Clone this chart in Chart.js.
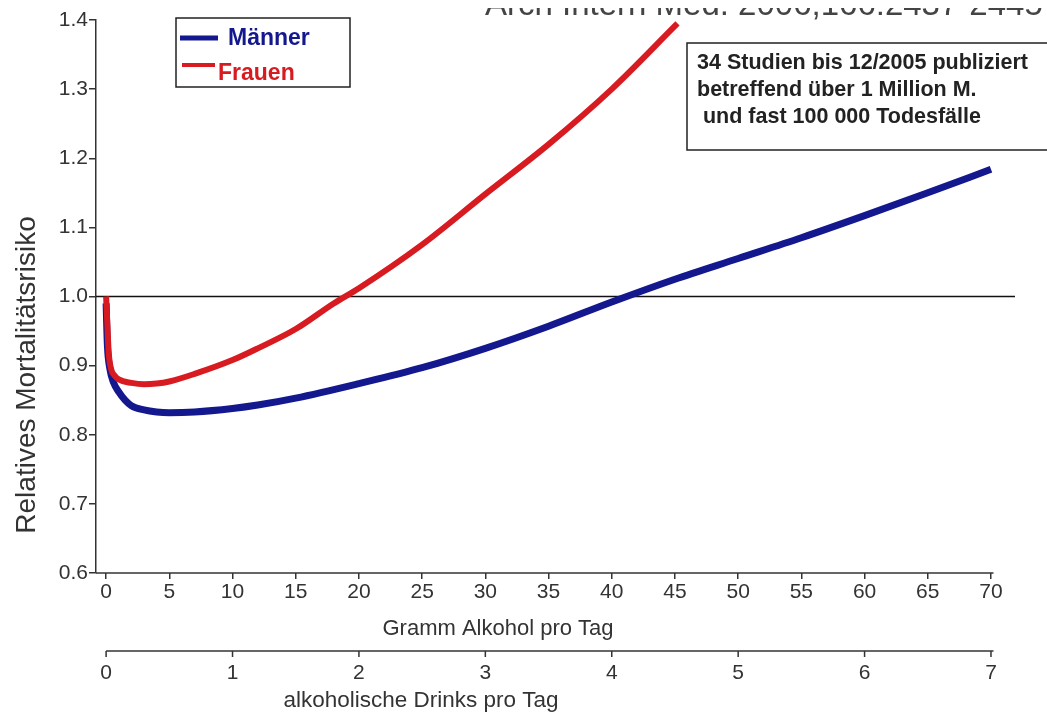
<!DOCTYPE html>
<html>
<head>
<meta charset="utf-8">
<script src="https://cdn.jsdelivr.net/npm/chart.js@4.4.1/dist/chart.umd.min.js"></script>
<style>
    html, body { margin: 0; padding: 0; background: #fff; }
    #wrap { width: 1047px; height: 713px; position: relative; }
</style>
</head>
<body>
<div id="wrap"><canvas id="lineChart"></canvas></div>
<script>
/* ---------------------------
   Data
---------------------------- */
const menGrams   = [0, 0.1, 0.3, 0.6, 1, 1.5, 2, 3, 4, 5, 7, 10, 12, 15, 20, 25, 30, 35, 40, 45, 50, 55, 60, 65, 70];
const menRisk    = [0.99, 0.93, 0.895, 0.875, 0.862, 0.85, 0.842, 0.836, 0.833, 0.832, 0.833, 0.838, 0.843, 0.853, 0.874, 0.897, 0.925, 0.957, 0.992, 1.025, 1.055, 1.085, 1.117, 1.15, 1.184];

const womenGrams = [0, 0.1, 0.2, 0.4, 0.7, 1, 2, 3, 4, 5, 7, 10, 12, 15, 18, 20, 25, 30, 35, 40, 45.2];
const womenRisk  = [1.0, 0.96, 0.92, 0.895, 0.885, 0.88, 0.875, 0.873, 0.874, 0.877, 0.888, 0.908, 0.925, 0.953, 0.99, 1.012, 1.075, 1.148, 1.22, 1.3, 1.395];

const referenceRisk = 1.0;

const gramTicks  = [0, 5, 10, 15, 20, 25, 30, 35, 40, 45, 50, 55, 60, 65, 70];
const drinkTicks = [0, 1, 2, 3, 4, 5, 6, 7];
const riskTicks  = [0.6, 0.7, 0.8, 0.9, 1.0, 1.1, 1.2, 1.3, 1.4];

const seriesLabels = ["Männer", "Frauen"];
const noteLines = [
    "34 Studien bis 12/2005 publiziert",
    "betreffend über 1 Million M.",
    " und fast 100 000 Todesfälle"
];
const sourceText = "Arch Intern Med. 2006;166:2437-2445";

const BLUE = "#13188f";
const RED = "#d81b20";
const AXIS = "#333";
const FONT = "'Liberation Sans', Arial, sans-serif";
const NARROW = "'Liberation Sans Narrow', 'Liberation Sans', Arial, sans-serif";

const toPoints = (xs, ys) => xs.map((x, i) => ({ x, y: ys[i] }));

/* ---------------------------
   Extra drawing: axes, labels, boxes
---------------------------- */
const decorations = {
    id: "decorations",
    afterDraw(chart) {
        const { ctx, chartArea, scales } = chart;
        const x = scales.x;
        const x2 = scales.x2;
        ctx.save();

        // main x axis line
        ctx.strokeStyle = AXIS;
        ctx.lineWidth = 1.5;
        ctx.beginPath();
        ctx.moveTo(chartArea.left, chartArea.bottom);
        ctx.lineTo(x.getPixelForValue(70.2), chartArea.bottom);
        ctx.stroke();

        // secondary axis (drinks per day)
        const y2 = 651;
        ctx.beginPath();
        ctx.moveTo(x2.getPixelForValue(0), y2);
        ctx.lineTo(x2.getPixelForValue(7.02), y2);
        ctx.stroke();
        ctx.fillStyle = AXIS;
        ctx.font = `21px ${NARROW}`;
        ctx.textAlign = "center";
        ctx.textBaseline = "middle";
        drinkTicks.forEach(d => {
            const px = x2.getPixelForValue(d);
            ctx.beginPath();
            ctx.moveTo(px, y2);
            ctx.lineTo(px, y2 + 6);
            ctx.stroke();
            ctx.fillText(String(d), px, 673);
        });

        // axis titles
        ctx.font = `22px ${FONT}`;
        ctx.fillText("Gramm Alkohol pro Tag", 498, 629);
        ctx.font = `22.5px ${FONT}`;
        ctx.fillText("alkoholische Drinks pro Tag", 421, 701);

        ctx.save();
        ctx.translate(27, 375);
        ctx.rotate(-Math.PI / 2);
        ctx.font = `28px ${FONT}`;
        ctx.fillText("Relatives Mortalitätsrisiko", 0, 0);
        ctx.restore();

        // source line, cut off at the very top (only the bottom strip shows)
        ctx.fillStyle = "#444";
        ctx.font = `33px ${FONT}`;
        ctx.textAlign = "left";
        ctx.textBaseline = "alphabetic";
        ctx.fillText(sourceText, 485, 15);
        ctx.fillStyle = "#fff";
        ctx.fillRect(470, 0, 577, 8);

        // legend box
        ctx.strokeStyle = "#222";
        ctx.lineWidth = 1.5;
        ctx.strokeRect(176, 18, 174, 69);
        ctx.lineCap = "butt";
        ctx.strokeStyle = BLUE;
        ctx.lineWidth = 5;
        ctx.beginPath(); ctx.moveTo(180, 38); ctx.lineTo(218, 38); ctx.stroke();
        ctx.strokeStyle = RED;
        ctx.lineWidth = 4;
        ctx.beginPath(); ctx.moveTo(182, 65); ctx.lineTo(215, 65); ctx.stroke();
        ctx.font = `bold 23px ${FONT}`;
        ctx.fillStyle = BLUE;
        ctx.fillText(seriesLabels[0], 228, 45);
        ctx.fillStyle = RED;
        ctx.fillText(seriesLabels[1], 218, 80);

        // note box
        ctx.strokeStyle = "#222";
        ctx.lineWidth = 1.5;
        ctx.strokeRect(687, 43, 380, 107);
        ctx.fillStyle = "#222";
        ctx.font = `bold 21.5px ${FONT}`;
        noteLines.forEach((line, i) => ctx.fillText(line, 697, 69 + i * 27));

        ctx.restore();
    }
};

/* ---------------------------
   Chart
---------------------------- */
const ctx = document.getElementById("lineChart").getContext("2d");

new Chart(ctx, {
    type: "line",
    data: {
        datasets: [
            {
                label: seriesLabels[1],
                data: toPoints(womenGrams, womenRisk),
                borderColor: RED,
                borderWidth: 6,
                pointRadius: 0,
                cubicInterpolationMode: "monotone",
                xAxisID: "x"
            },
            {
                label: seriesLabels[0],
                data: toPoints(menGrams, menRisk),
                borderColor: BLUE,
                borderWidth: 7,
                pointRadius: 0,
                cubicInterpolationMode: "monotone",
                xAxisID: "x"
            },
            {
                label: "Referenz",
                data: [{ x: -0.8, y: referenceRisk }, { x: 71.9, y: referenceRisk }],
                borderColor: "#111",
                borderWidth: 1.5,
                pointRadius: 0,
                xAxisID: "x"
            }
        ]
    },
    options: {
        responsive: true,
        maintainAspectRatio: false,
        animation: false,
        devicePixelRatio: 1,
        layout: {
            padding: { top: 20, right: 32, left: 0, bottom: 0 }
        },
        scales: {
            x: {
                type: "linear",
                position: "bottom",
                min: -0.8,
                max: 71.9,
                afterBuildTicks: s => { s.ticks = gramTicks.map(v => ({ value: v })); },
                afterFit: s => { s.height = 140; },
                ticks: {
                    color: AXIS,
                    font: { family: NARROW, size: 21 },
                    maxRotation: 0,
                    autoSkip: false,
                    padding: 1
                },
                grid: {
                    drawOnChartArea: false,
                    drawTicks: true,
                    tickLength: 6,
                    color: AXIS,
                    lineWidth: 1.5
                },
                border: { display: false }
            },
            x2: {
                type: "linear",
                position: "bottom",
                min: -0.08,
                max: 7.19,
                display: false
            },
            y: {
                min: 0.6,
                max: 1.4,
                afterBuildTicks: s => { s.ticks = riskTicks.map(v => ({ value: v })); },
                afterFit: s => { s.width = 96; },
                ticks: {
                    color: AXIS,
                    font: { family: FONT, size: 21 },
                    padding: 1,
                    callback: v => Number(v).toFixed(1)
                },
                grid: {
                    drawOnChartArea: false,
                    drawTicks: true,
                    tickLength: 7,
                    color: AXIS,
                    lineWidth: 1.5
                },
                border: { display: true, color: AXIS, width: 1.5 }
            }
        },
        plugins: {
            legend: { display: false },
            tooltip: { enabled: false }
        }
    },
    plugins: [decorations]
});
</script>
</body>
</html>
